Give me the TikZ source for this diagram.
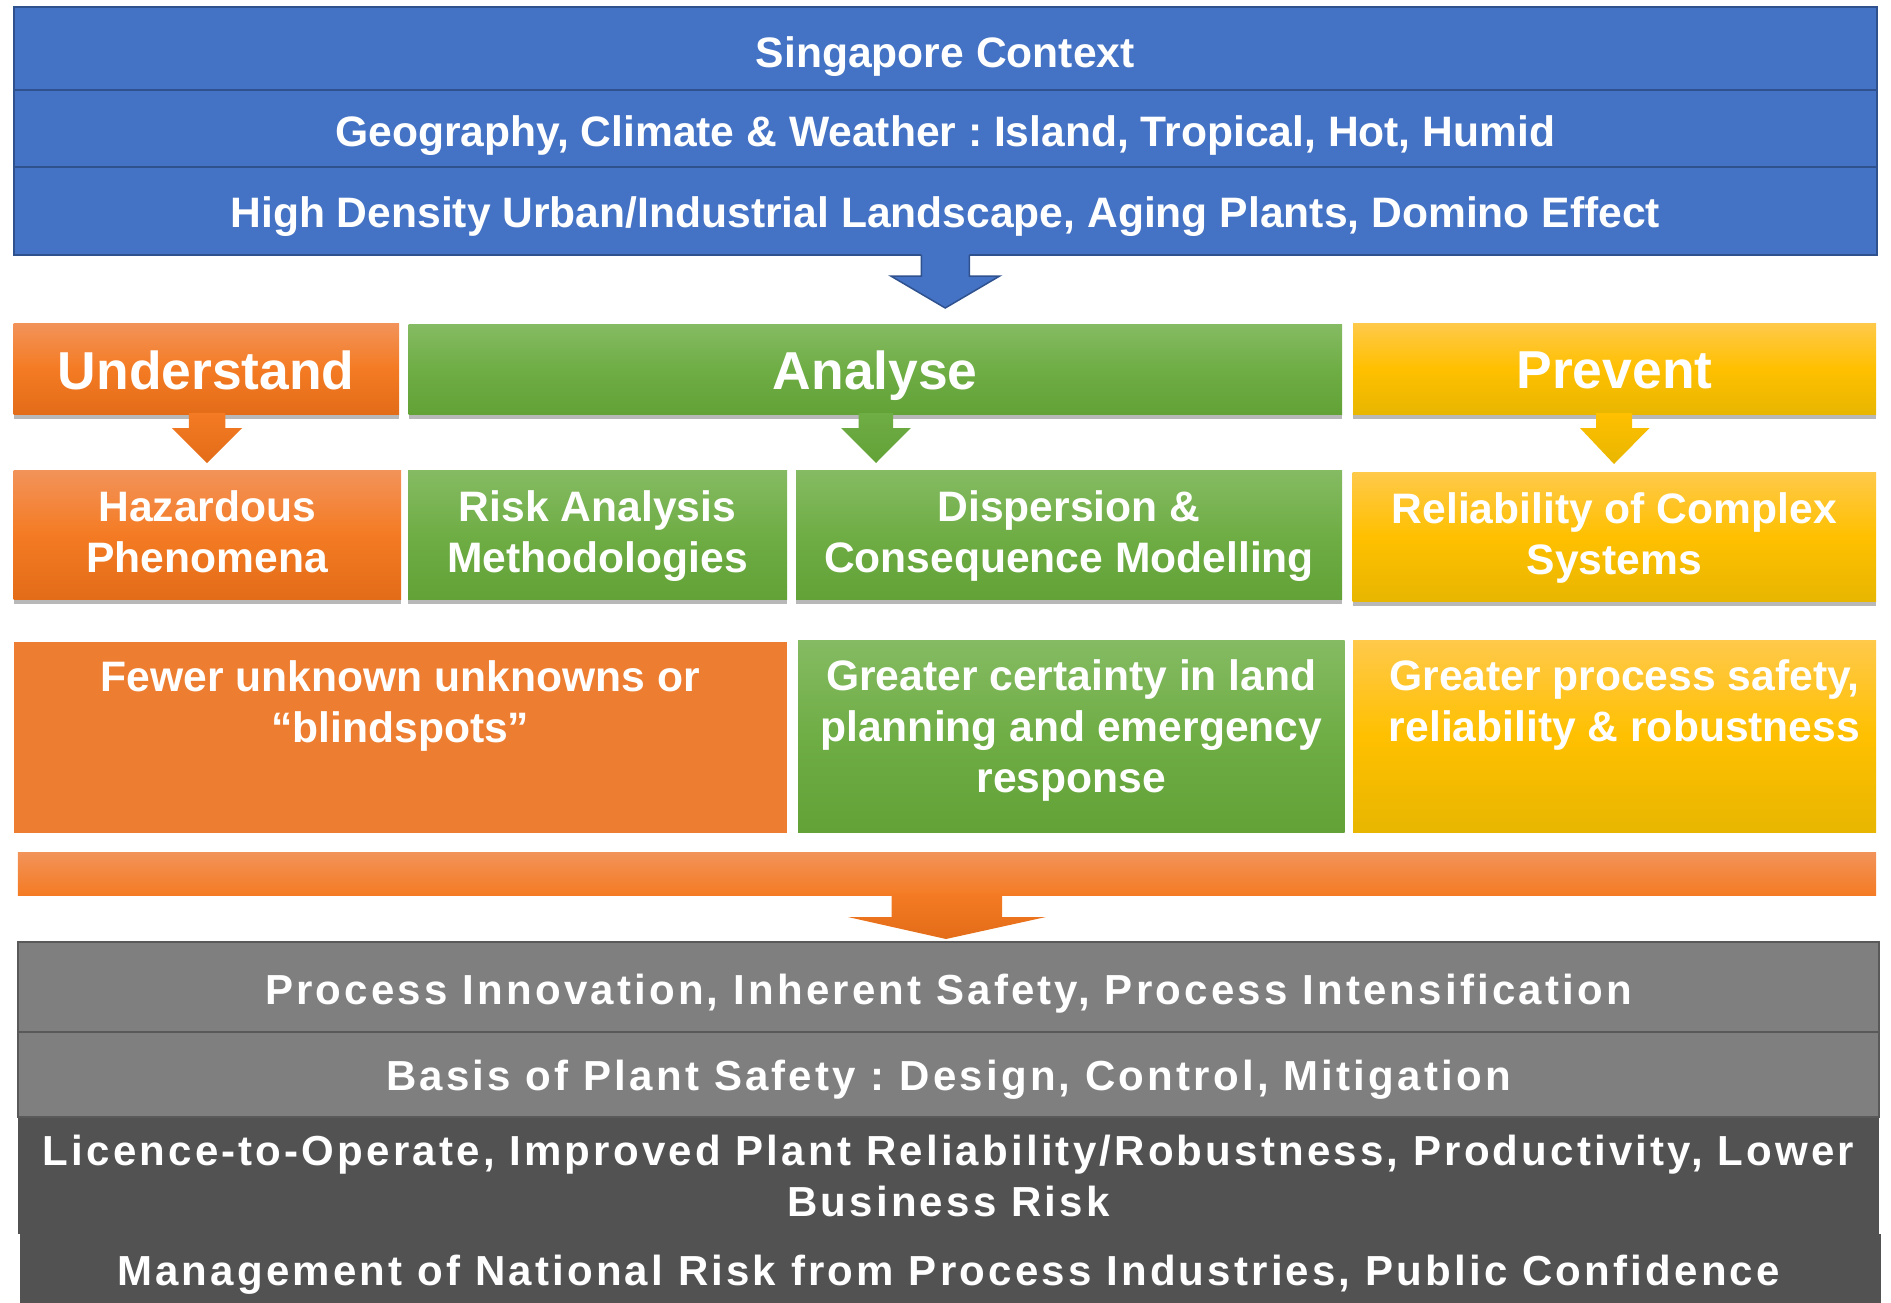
\documentclass[tikz,border=0pt]{standalone}
\usepackage{fontspec}
\setmainfont{Liberation Sans}
\newfontfamily\spacedfont[LetterSpace=7.6]{Liberation Sans}
\usetikzlibrary{calc,shadows}
\frenchspacing

\definecolor{sgblue}{HTML}{4472C4}
\definecolor{sgblueline}{HTML}{2F528F}
\definecolor{orA}{HTML}{F2935A}
\definecolor{orB}{HTML}{F47B23}
\definecolor{orC}{HTML}{E36C19}
\definecolor{grA}{HTML}{85BB63}
\definecolor{grB}{HTML}{6FAD45}
\definecolor{grC}{HTML}{62A236}
\definecolor{yeA}{HTML}{FFC94A}
\definecolor{yeB}{HTML}{FFC000}
\definecolor{yeC}{HTML}{E8B600}
\definecolor{orflat}{HTML}{ED7D31}
\definecolor{greyL}{HTML}{7F7F7F}
\definecolor{greyLine}{HTML}{595959}
\definecolor{greyD}{HTML}{525252}

\newcommand{\stacked}[1]{\begin{tabular}[t]{@{}c@{}}#1\end{tabular}}

\tikzset{
  box/.style={rectangle, inner sep=0pt, outer sep=0pt},
  bluerow/.style={box, fill=sgblue, draw=sgblueline, line width=2pt},
  orshade/.style={top color=orA, bottom color=orC, middle color=orB},
  grshade/.style={top color=grA, bottom color=grC, middle color=grB},
  yeshade/.style={top color=yeA, bottom color=yeC, middle color=yeB},
  shadowed/.style={drop shadow={shadow xshift=0pt, shadow yshift=-5pt, opacity=0.28, fill=black}},
  headbox/.style={box, shadowed},
  midbox/.style={box, shadowed},
  greyrow/.style={box, minimum width=1861pt},
  txt/.style={anchor=base, inner sep=0pt, outer sep=0pt, text=white,
    font=\bfseries\fontsize{42.6}{51}\selectfont},
  headtxt/.style={txt, font=\bfseries\fontsize{53.4}{60}\selectfont},
  greytxt/.style={txt, font=\spacedfont\bfseries\fontsize{42}{51.5}\selectfont},
}

\begin{document}
\begin{tikzpicture}[x=1pt,y=-1pt]
\useasboundingbox (0,0) rectangle (1891,1303);
\clip (0,0) rectangle (1891,1303);

% ---- Singapore context (blue) ----
\node[bluerow, minimum width=1863.5pt, minimum height=82.5pt] (ctx1) at (945.25,48.75) {};
\node[bluerow, minimum width=1863.5pt, minimum height=77pt] (ctx2) at (945.25,128.5) {};
\node[bluerow, minimum width=1863.5pt, minimum height=88pt] (ctx3) at (945.25,211) {};
\node[txt] (ctx1t) at (945.25,68) {Singapore Context};
\node[txt] (ctx2t) at (945.25,146.7) {Geography, Climate \& Weather : Island, Tropical, Hot, Humid};
\node[txt] (ctx3t) at (945.25,227.7) {High Density Urban/Industrial Landscape, Aging Plants, Domino Effect};

\fill[sgblue] ($(ctx3.south)+(-24,-1.5)$) -- ($(ctx3.south)+(-24,21)$) -- ($(ctx3.south)+(-54.5,21)$)
  -- ($(ctx3.south)+(0,53)$) -- ($(ctx3.south)+(54.5,21)$) -- ($(ctx3.south)+(24,21)$) -- ($(ctx3.south)+(24,-1.5)$) -- cycle;
\draw[sgblueline, line width=1.5pt, line join=miter] ($(ctx3.south)+(-24,0)$) -- ($(ctx3.south)+(-24,21)$) -- ($(ctx3.south)+(-54.5,21)$)
  -- ($(ctx3.south)+(0,53)$) -- ($(ctx3.south)+(54.5,21)$) -- ($(ctx3.south)+(24,21)$) -- ($(ctx3.south)+(24,0)$);

% ---- Understand / Analyse / Prevent ----
\node[headbox, orshade, minimum width=385.5pt, minimum height=91pt] (und) at (206.25,368.5) {};
\node[headbox, grshade, minimum width=933.5pt, minimum height=90pt] (ana) at (875.25,369) {};
\node[headbox, yeshade, minimum width=523pt, minimum height=91pt] (pre) at (1614.5,368.5) {};
\node[headtxt] (undt) at ($(und.center)+(0,20.5)$) {Understand};
\node[headtxt] (anat) at ($(ana.center)+(0,20)$) {Analyse};
\node[headtxt] (pret) at ($(pre.center)+(0,20)$) {Prevent};

% ---- second row ----
\node[midbox, orshade, minimum width=387.5pt, minimum height=129pt] (haz) at (207.25,534.5) {};
\node[midbox, grshade, minimum width=379pt, minimum height=129pt] (risk) at (597.5,534.5) {};
\node[midbox, grshade, minimum width=546pt, minimum height=129pt] (disp) at (1069,534.5) {};
\node[midbox, yeshade, minimum width=523.5pt, minimum height=129pt] (rel) at (1614.25,536.5) {};
\node[txt] (hazt) at ($(haz.center)+(0,-12.8)$) {\stacked{Hazardous\\Phenomena}};
\node[txt] (riskt) at ($(risk.center)+(0,-12.8)$) {\stacked{Risk Analysis\\Methodologies}};
\node[txt] (dispt) at ($(disp.center)+(0,-13.5)$) {\stacked{Dispersion \&\\Consequence Modelling}};
\node[txt] (relt) at ($(rel.center)+(0,-13.2)$) {\stacked{Reliability of Complex\\Systems}};

% small down arrows
\shade[top color=orB, bottom color=orC] ($(und.south)+(-17.5,-1)$) -- ($(und.south)+(-17.5,14)$) -- ($(und.south)+(-34.5,14)$)
  -- ($(und.south)+(0.75,49)$) -- ($(und.south)+(36,14)$) -- ($(und.south)+(19,14)$) -- ($(und.south)+(19,-1)$) -- cycle;
\shade[top color=grB, bottom color=grC] ($(ana.south)+(-16.75,-1)$) -- ($(ana.south)+(-16.75,14)$) -- ($(ana.south)+(-34.25,14)$)
  -- ($(ana.south)+(0.75,49)$) -- ($(ana.south)+(35.5,14)$) -- ($(ana.south)+(17.75,14)$) -- ($(ana.south)+(17.75,-1)$) -- cycle;
\shade[top color=yeB, bottom color=yeC] ($(pre.south)+(-18.5,-1)$) -- ($(pre.south)+(-18.5,14)$) -- ($(pre.south)+(-34.5,14)$)
  -- ($(pre.south)+(-0.5,50)$) -- ($(pre.south)+(35,14)$) -- ($(pre.south)+(17.5,14)$) -- ($(pre.south)+(17.5,-1)$) -- cycle;

% ---- outcome row ----
\node[box, fill=orflat, minimum width=773.5pt, minimum height=191pt] (few) at (400.25,737.5) {};
\node[box, grshade, minimum width=546.6pt, minimum height=192pt] (cert) at (1071.3,736) {};
\node[box, yeshade, minimum width=523pt, minimum height=191.3pt] (saf) at (1614.5,736.35) {};
\node[txt] (fewt) at ($(few.north)+(0,49.5)$) {\stacked{Fewer unknown unknowns or\\“blindspots”}};
\node[txt] (certt) at ($(cert.north)+(0,50)$) {\stacked{Greater certainty in land\\planning and emergency\\response}};
\node[txt] (saft) at ($(saf.north)+(10,50)$) {\stacked{Greater process safety,\\reliability \& robustness}};

% ---- big orange collector arrow ----
\node[box, top color=orA, bottom color=orB, minimum width=1858.2pt, minimum height=43pt] (bar) at (946.9,873.5) {};
\shade[top color=orB, bottom color=orC] ($(bar.south)+(-55.2,-1)$) -- ($(bar.south)+(-55.2,22)$) -- ($(bar.south)+(-99,22)$)
  -- ($(bar.south)+(-0.9,44)$) -- ($(bar.south)+(99,22)$) -- ($(bar.south)+(55.2,22)$) -- ($(bar.south)+(55.2,-1)$) -- cycle;

% ---- grey result rows ----
\node[greyrow, fill=greyL, draw=greyLine, line width=2pt, minimum height=90pt] (g1) at (948.5,987) {};
\node[greyrow, fill=greyL, draw=greyLine, line width=2pt, minimum height=85pt] (g2) at (948.5,1074.5) {};
\node[greyrow, fill=greyD, minimum height=116pt] (g3) at (948.5,1175.5) {};
\node[greyrow, fill=greyD, minimum height=76pt] (g4) at (950.5,1272) {};
\node[greytxt] (g1t) at (948.5,1004.2) {Process Innovation, Inherent Safety, Process Intensification};
\node[greytxt] (g2t) at (948.5,1090.7) {Basis of Plant Safety : Design, Control, Mitigation};
\node[greytxt] (g3t) at (948.5,1165) {\stacked{Licence-to-Operate, Improved Plant Reliability/Robustness, Productivity, Lower\\Business Risk}};
\node[greytxt] (g4t) at (948.5,1285) {Management of National Risk from Process Industries, Public Confidence};

\end{tikzpicture}
\end{document}
